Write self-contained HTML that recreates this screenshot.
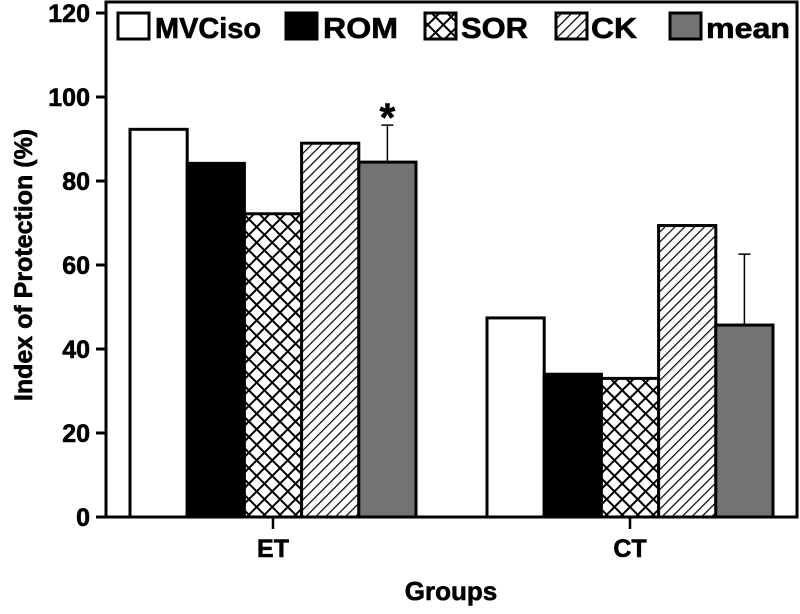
<!DOCTYPE html>
<html><head><meta charset="utf-8"><style>
body{margin:0;background:#fff}
svg text{font-family:"Liberation Sans",Arial,sans-serif;font-weight:bold;fill:#000;stroke:#000;stroke-width:0.6}
</style></head><body>
<svg id="chart" width="800" height="609" xmlns="http://www.w3.org/2000/svg">
<defs>
<pattern id="cross" width="11" height="11" patternUnits="userSpaceOnUse" patternTransform="rotate(45)">
<rect width="11" height="11" fill="#fff"/><line x1="0" y1="0" x2="0" y2="11" stroke="#000" stroke-width="4"/><line x1="0" y1="0" x2="11" y2="0" stroke="#000" stroke-width="4"/>
</pattern>
<pattern id="diag" width="7" height="7" patternUnits="userSpaceOnUse" patternTransform="rotate(45)">
<rect width="7" height="7" fill="#fff"/><line x1="0" y1="0" x2="0" y2="7" stroke="#000" stroke-width="2.4"/>
</pattern>
</defs>
<g id="bars"></g>
<rect x="106" y="2" width="691" height="515" fill="none" stroke="#000" stroke-width="3"/>
<g id="axes"></g>
<text transform="translate(32,265) rotate(-90)" text-anchor="middle" font-size="25">Index of Protection (%)</text>
<text x="451" y="600" text-anchor="middle" font-size="26">Groups</text>
<g id="legend"></g>
</svg>
<script>
const groups=["ET","CT"];
const series=["MVCiso","ROM","SOR","CK","mean"];
const etValues=[92.3,84.2,72.2,89,84.5];
const ctValues=[47.4,34,33,69.4,45.7];
const meanErr=[8.8,16.9];
const yTicks=[0,20,40,60,80,100,120];
const fills=["#fff","#000","url(#cross)","url(#diag)","#737373"];
const NS="http://www.w3.org/2000/svg";
const y=v=>517-v*4.2;
const groupCenter=[273,630];
const bw=57.2;
function mk(tag,attrs,parent){const e=document.createElementNS(NS,tag);for(const k in attrs)e.setAttribute(k,attrs[k]);parent.appendChild(e);return e;}
const bars=document.getElementById('bars');
const vals=[etValues,ctValues];
groups.forEach((g,gi)=>{
  vals[gi].forEach((v,si)=>{
    const x=groupCenter[gi]-2.5*bw+si*bw;
    const r=mk('rect',{x:x,y:y(v),width:bw,height:517-y(v),fill:fills[si],stroke:'#000','stroke-width':3},bars);
    
    
  });
  const mx=groupCenter[gi]+2*bw;
  const top=y(vals[gi][4]+meanErr[gi]);
  const eb=mk('path',{d:`M${mx},${y(vals[gi][4])}V${top}M${mx-6},${top}H${mx+6}`,stroke:'#000','stroke-width':1.5,fill:'none'},bars);
  
  
});
const st=mk('text',{x:groupCenter[0]+2*bw,y:y(93.3)+6,'text-anchor':'middle','font-size':40},bars);
st.textContent='*';


const ax=document.getElementById('axes');
yTicks.forEach(t=>{
  mk('line',{x1:96,x2:106,y1:y(t),y2:y(t),stroke:'#000','stroke-width':3},ax);
  const tx=mk('text',{x:90,y:y(t)+9,'text-anchor':'end','font-size':25},ax);
  tx.textContent=t;
  
  
});
groups.forEach((g,gi)=>{
  mk('line',{x1:groupCenter[gi],x2:groupCenter[gi],y1:517,y2:529,stroke:'#000','stroke-width':2.5},ax);
  const tx=mk('text',{x:groupCenter[gi],y:557,'text-anchor':'middle','font-size':25},ax);
  tx.textContent=g;
  
  
});
const lg=document.getElementById('legend');
const lgBox=[118,286,425,556,670];
const lgText=[155,323,461,591,706];
series.forEach((s,si)=>{
  const r=mk('rect',{x:lgBox[si],y:13,width:31,height:26,fill:fills[si],stroke:'#000','stroke-width':3},lg);
  
  
  const t=mk('text',{x:lgText[si],y:38,'font-size':29,textLength:[106,75,67,46,84][si],lengthAdjust:'spacingAndGlyphs'},lg);
  t.textContent=s;
  
  
});
</script>
</body></html>
